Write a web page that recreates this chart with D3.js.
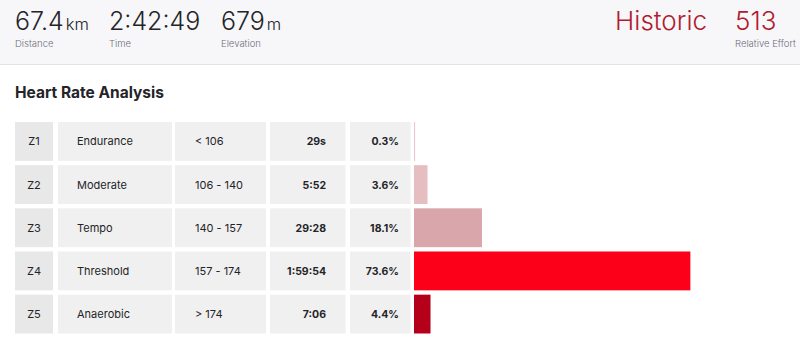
<!DOCTYPE html>
<html><head><meta charset="utf-8">
<script src="https://cdn.jsdelivr.net/npm/d3@7"></script>
<style>
html,body{margin:0;padding:0;background:#fff;}
svg{display:block;font-family:Inter,"Noto Sans",sans-serif;}
</style></head>
<body>
<svg id="c" width="800" height="340"></svg>
<script>
// ---- data ----
const zones = ["Z1","Z2","Z3","Z4","Z5"];
const zoneNames = ["Endurance","Moderate","Tempo","Threshold","Anaerobic"];
const hrRanges = ["< 106","106 - 140","140 - 157","157 - 174","> 174"];
const times = ["29s","5:52","29:28","1:59:54","7:06"];
const percents = [0.3, 3.6, 18.1, 73.6, 4.4];
const barColors = ["#ecc9cc","#e6bec2","#d9a6ab","#fc0019","#b5001a"];
const stats = [
  {value:"67.4", unit:"km", label:"Distance"},
  {value:"2:42:49", unit:"", label:"Time"},
  {value:"679", unit:"m", label:"Elevation"}
];
const effortLabel = "Historic";
const effortValue = "513";
const effortCaption = "Relative Effort";
const title = "Heart Rate Analysis";

const svg = d3.select("#c");

// header
svg.append("rect").attr("x",0).attr("y",0).attr("width",800).attr("height",64).attr("fill","#f7f7fa");
svg.append("rect").attr("x",0).attr("y",64).attr("width",800).attr("height",1).attr("fill","#e3e3e6");

const statX = [15,109,221];
stats.forEach((s,i)=>{
  const t = svg.append("text").attr("x",statX[i]).attr("y",30).attr("fill","#242428")
    .style("font-size","25px").style("font-weight",300);
  t.append("tspan").text(s.value);
  if (s.unit) t.append("tspan").attr("dx",2).style("font-size","16.5px").text(s.unit);
  svg.append("text").attr("x",statX[i]).attr("y",47).attr("fill","#6d6d78")
    .style("font-size","9.5px").style("font-weight",300).text(s.label);
});
svg.append("text").attr("x",707).attr("y",30).attr("text-anchor","end").attr("fill","#b01c2e")
  .style("font-size","26px").style("font-weight",300).text(effortLabel);
svg.append("text").attr("x",735).attr("y",30).attr("fill","#b01c2e")
  .style("font-size","26px").style("font-weight",300).text(effortValue);
svg.append("text").attr("x",735).attr("y",47).attr("fill","#6d6d78")
  .style("font-size","9.5px").style("font-weight",300).text(effortCaption);

svg.append("text").attr("x",15).attr("y",98).attr("fill","#242428")
  .style("font-size","15.5px").style("font-weight",700).text(title);

// table
const y = d3.scaleBand().domain(zones).range([122,333.5]).paddingInner(0.1).paddingOuter(0);
const x = d3.scaleLinear().domain([0,100]).range([414,789.5]);

const cols = [
  {x0:15, x1:53, fill:"#e8e8e8", get:(d,i)=>zones[i], anchor:"middle", tx:34, weight:400, fs:11},
  {x0:58, x1:172, fill:"#f0f0f0", get:(d,i)=>zoneNames[i], anchor:"start", tx:77, weight:400, fs:11},
  {x0:175, x1:266, fill:"#f0f0f0", get:(d,i)=>hrRanges[i], anchor:"start", tx:195, weight:400, fs:11},
  {x0:270, x1:345.5, fill:"#f0f0f0", get:(d,i)=>times[i], anchor:"end", tx:326, weight:700, fs:10.5},
  {x0:350, x1:410.5, fill:"#f0f0f0", get:(d,i)=>d3.format(".1f")(percents[i])+"%", anchor:"end", tx:399, weight:700, fs:10.5}
];

const rows = svg.append("g").selectAll("g").data(zones).join("g")
  .attr("transform",d=>`translate(0,${y(d)})`);

cols.forEach(c=>{
  rows.append("rect").attr("x",c.x0).attr("y",0).attr("width",c.x1-c.x0).attr("height",y.bandwidth()).attr("fill",c.fill);
  rows.append("text").attr("x",c.tx).attr("y",y.bandwidth()/2+4).attr("text-anchor",c.anchor)
    .attr("fill","#242428").style("font-size",c.fs+"px").style("font-weight",c.weight)
    .text((d,i)=>c.get(d,i));
});

rows.append("rect").attr("x",x(0)).attr("y",0)
  .attr("width",(d,i)=>Math.max(1,x(percents[i])-x(0)))
  .attr("height",y.bandwidth())
  .attr("fill",(d,i)=>barColors[i]);
</script>
</body></html>
